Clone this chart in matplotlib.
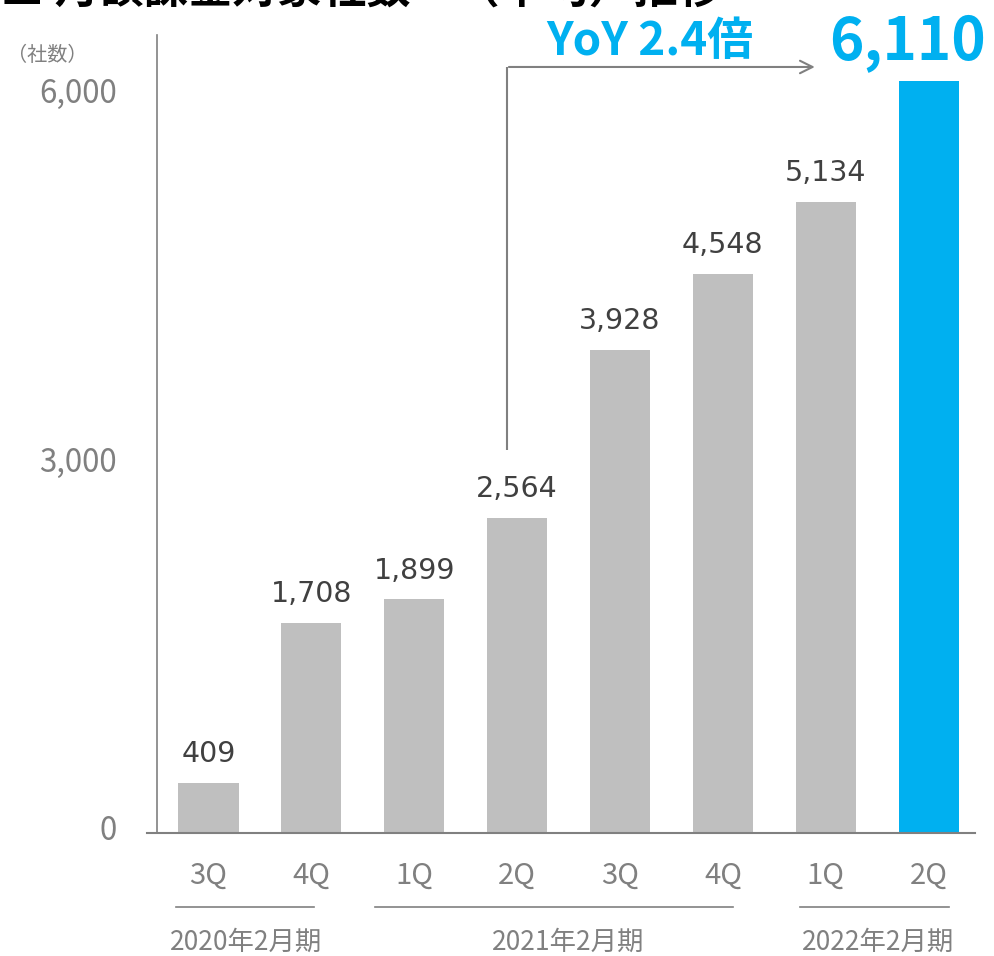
import matplotlib
matplotlib.use("Agg")
import matplotlib.pyplot as plt
from matplotlib.transforms import ScaledTranslation

# quarterly averages of billed companies
quarters = ["3Q", "4Q", "1Q", "2Q", "3Q", "4Q", "1Q", "2Q"]
values = [409, 1708, 1899, 2564, 3928, 4548, 5134, 6110]
fiscal_years = ["2020年2月期", "2021年2月期", "2022年2月期"]
yticks = [0, 3000, 6000]
ytick_labels = ["0", "3,000", "6,000"]
yoy_text = "YoY 2.4倍"

# bracket extents and label centres (in bar-index units)
bracket_spans = [(-0.32, 1.03), (1.62, 5.10), (5.75, 7.20)]
bracket_label_x = [0.37, 3.5, 6.51]

JP = ["Noto Sans CJK JP", "DejaVu Sans"]
GRAY_BAR = "#BFBFBF"
BLUE = "#00B0F0"
AXIS_GRAY = "#808080"
TEXT_GRAY = "#808080"
DARK = "#404040"

W, H = 994, 956
fig = plt.figure(figsize=(W / 100, H / 100), dpi=100)


def px(x0, y0, x1, y1):
    # pixel box (top-left origin) -> figure fraction rect
    return [x0 / W, 1 - y1 / H, (x1 - x0) / W, (y1 - y0) / H]


ax = fig.add_axes(px(157, 35, 975, 833))
ax.set_xlim(-0.5, 7.45)
ax.set_ylim(0, 6488)

x = list(range(len(values)))
colors = [GRAY_BAR] * (len(values) - 1) + [BLUE]
ax.bar(x, values, width=0.585, color=colors, zorder=2)

for xi, v in zip(x[:-1], values[:-1]):
    ax.text(xi, v + 170, f"{v:,}", ha="center", va="baseline",
            fontsize=20.5, color=DARK, family="DejaVu Sans")

# highlighted latest value
ax.text(6.79, 6285, f"{values[-1]:,}", ha="center", va="baseline",
        fontsize=42, fontweight="bold", color=BLUE, family=JP)
ax.text(4.29, 6325, yoy_text, ha="center", va="baseline",
        fontsize=33, fontweight="bold", color=BLUE, family=JP)

# growth arrow from the year-ago quarter
arrow_y = 6228
ax.plot([2.9, 2.9], [3114, arrow_y], color=AXIS_GRAY, lw=1.5,
        solid_capstyle="butt", clip_on=False)
ax.annotate("", xy=(5.92, arrow_y), xytext=(2.9 - 0.007, arrow_y),
            arrowprops=dict(arrowstyle="->,head_length=0.9,head_width=0.45",
                            color=AXIS_GRAY, lw=1.5),
            annotation_clip=False)

for s in ["top", "right"]:
    ax.spines[s].set_visible(False)
ax.spines["left"].set_color(AXIS_GRAY)
ax.spines["left"].set_linewidth(1.2)
ax.spines["bottom"].set_color(AXIS_GRAY)
ax.spines["bottom"].set_linewidth(1.5)
ax.spines["bottom"].set_bounds(-0.6, 7.45)

ax.set_yticks(yticks)
ax.set_yticklabels(ytick_labels, family=JP, fontsize=22.5, color=TEXT_GRAY)
ax.tick_params(axis="y", length=0, pad=29)
up = ScaledTranslation(0, 5 / 100, fig.dpi_scale_trans)
for lbl in ax.get_yticklabels():
    lbl.set_transform(lbl.get_transform() + up)
ax.set_xticks(x)
ax.set_xticklabels(quarters, family=JP, fontsize=21, color=TEXT_GRAY)
ax.tick_params(axis="x", length=0, pad=20)

ax.text(-1.57, 6320, "（社数）", ha="center", va="center", fontsize=14.5,
        color=TEXT_GRAY, family=JP)

# fiscal year brackets under the quarter labels
for label, (a, b), lx in zip(fiscal_years, bracket_spans, bracket_label_x):
    ax.plot([a, b], [-600, -600], color=AXIS_GRAY, lw=1.2, clip_on=False)
    ax.text(lx, -890, label, ha="center", va="center", fontsize=19,
            color=TEXT_GRAY, family=JP)

# slide title, cut off by the top edge
fig.text(0.0, 1 - 3 / H, "■ 月額課金対象社数　（平均）推移", ha="left",
         va="baseline", fontsize=32, fontweight="bold", color="black",
         family=JP)

fig.savefig("out.png", dpi=100)
